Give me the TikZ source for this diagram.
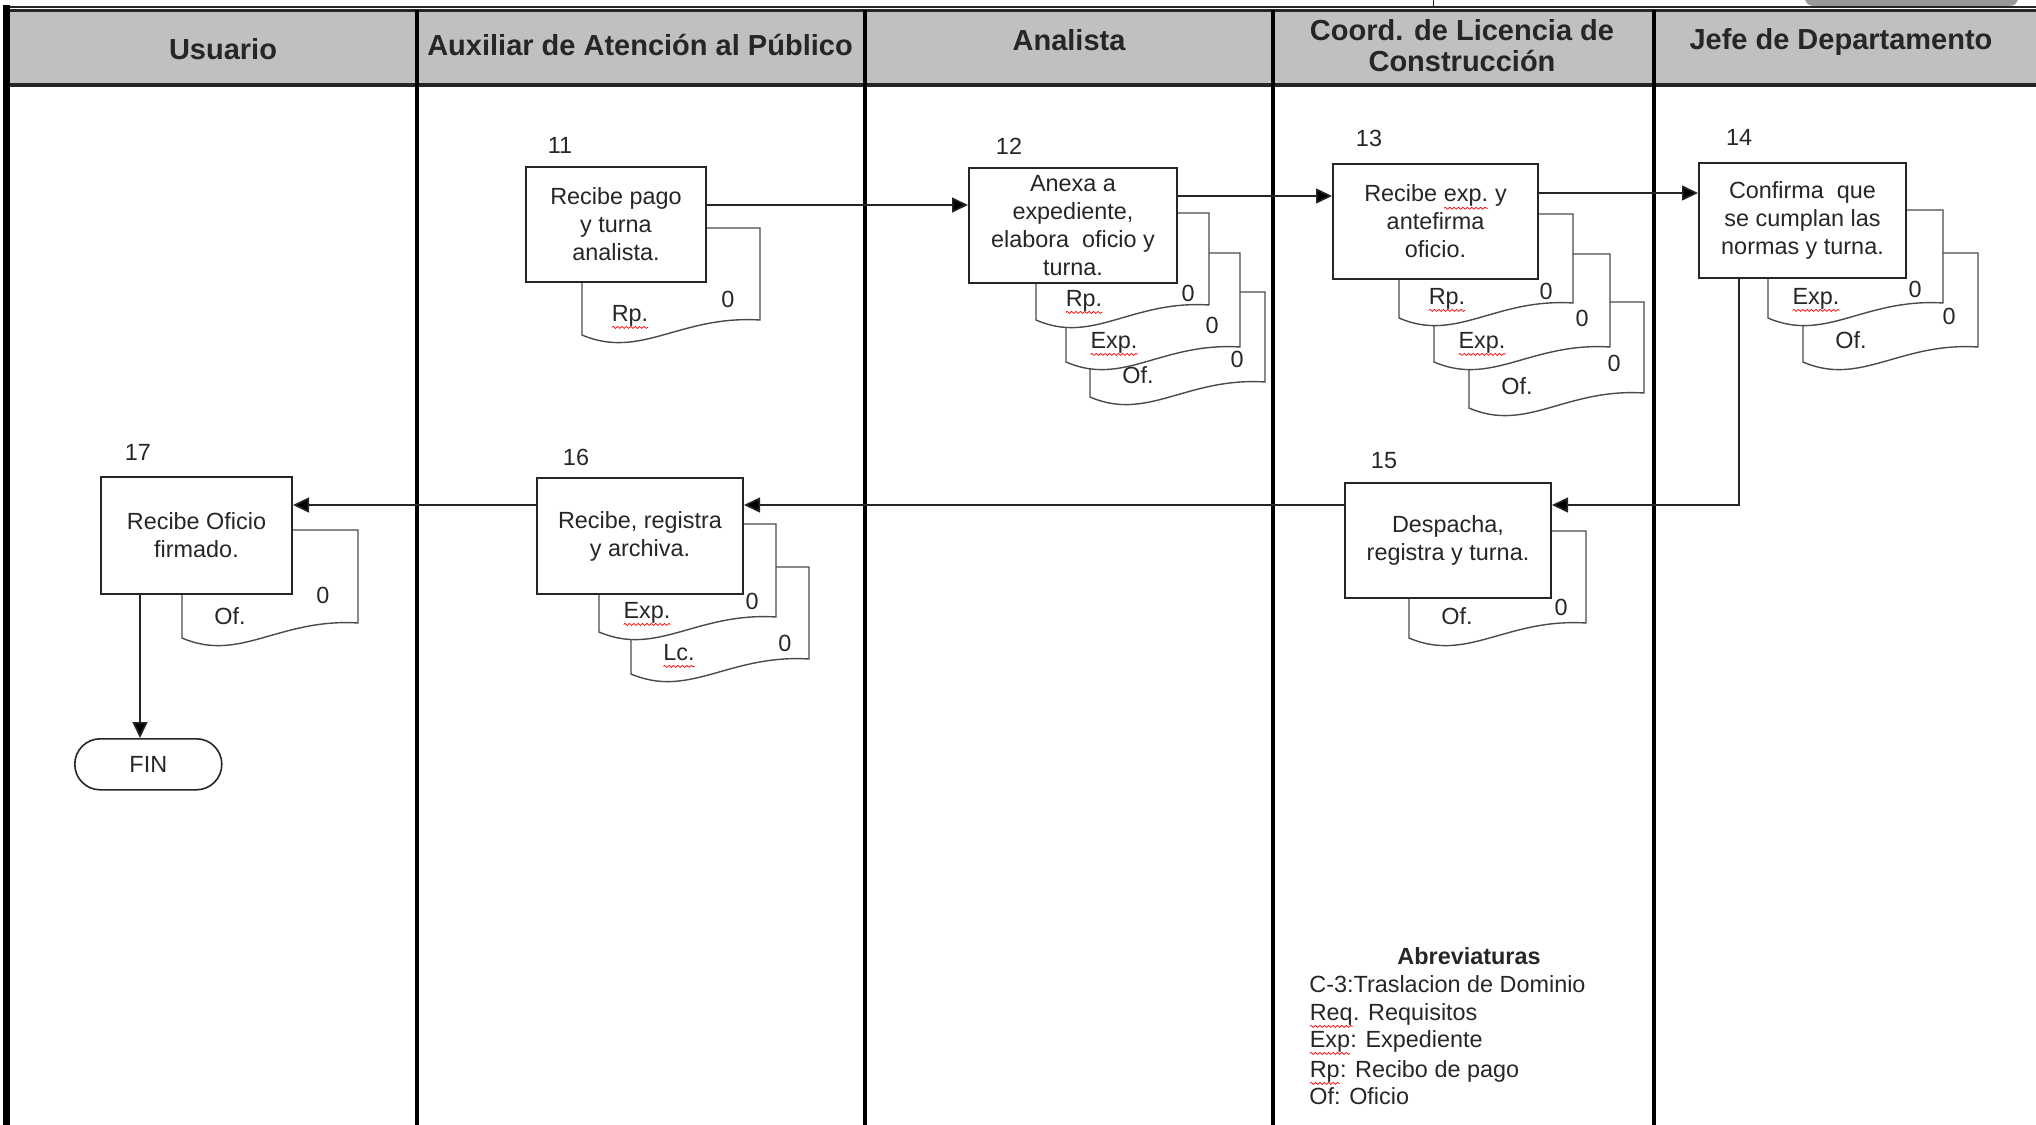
\documentclass[tikz,border=0pt]{standalone}
\usepackage{fontspec}
\setmainfont{Liberation Sans}
\usetikzlibrary{arrows.meta,calc,decorations.pathmorphing}
\definecolor{hdr}{HTML}{C0C0C0}
\definecolor{ink}{HTML}{262626}
\definecolor{docc}{HTML}{4A4A4A}
\newcommand\sqg[1]{\tikz[x=1pt,y=1pt,baseline=(sqw.base)]{\node[inner sep=0pt,outer sep=0pt,anchor=base,draw=none,fill=none,minimum width=0pt,minimum height=0pt](sqw){#1}; \draw[red, line width=0.35pt, decorate, decoration={snake,amplitude=0.5pt,segment length=2.2pt}] ([yshift=-3.2pt]sqw.base west) -- ([yshift=-3.2pt]sqw.base east);}}
\newcommand\bodyfont{\fontsize{11.7}{14}\selectfont}
\newcommand\hdrfont{\bfseries\fontsize{14.5}{15.5}\selectfont}
\tikzset{
  lane/.style={line width=1.6pt, black},
  box/.style={draw=ink, line width=1pt, fill=white, align=center, font=\bodyfont, text=ink, inner sep=2pt, anchor=north west},
  docpath/.style={draw=docc, line width=0.7pt, fill=white},
  arr/.style={draw=ink, line width=0.8pt, -{Triangle[length=8pt,width=7.5pt]}},
  num/.style={font=\bodyfont, text=ink, inner sep=0pt},
  hdrtxt/.style={font=\hdrfont, text=ink, align=center, inner sep=0pt},
  doclbl/.style={font=\bodyfont, text=ink, inner sep=0pt, anchor=base},
  zlbl/.style={font=\bodyfont, text=ink, inner sep=0pt},
  legl/.style={font=\bodyfont, text=ink, inner sep=0pt, anchor=base west},
}
% name, x1, top, x2, yr, label, zero x, zero y
\newcommand\docshp[8]{%
  \pgfmathsetmacro\dw{#4-#2}%
  \draw[docpath] (#2,#3) -- (#4,#3) -- (#4,#5) .. controls ({#4-0.45*\dw},{#5-5}) and ({#2+0.33*\dw},{#5+40}) .. (#2,{#5+15}) -- cycle;
  \node[doclbl] (#1t) at ({#2+48},{#5+1}) {#6};
  \node[zlbl] (#1z) at (#7,#8) {0};
}
\begin{document}
\begin{tikzpicture}[x=0.5pt,y=-0.5pt]
\useasboundingbox (0,0) rectangle (2036,1125);
% top strip
\draw[line width=0.5pt, ink] (1433,0) -- (1433,7);
\fill[gray!80, rounded corners=4pt] (1805,-12) rectangle (2018,6);
\draw[line width=0.8pt, ink] (6,7) -- (2036,7);
% header
\fill[hdr] (6,10) rectangle (2036,85);
\draw[line width=1.3pt, ink] (6,10.5) -- (2036,10.5);
\draw[line width=2pt, ink] (6,85) -- (2036,85);
% lanes
\draw[line width=3.5pt, black] (6.5,5) -- (6.5,1125);
\foreach \lx in {417,865,1273,1654} {\draw[lane] (\lx,10) -- (\lx,1125);}
% header texts
\node[hdrtxt] (h1) at (223,49) {Usuario};
\node[hdrtxt] (h2) at (640,45) {Auxiliar de Atención al Público};
\node[hdrtxt] (h3) at (1069,40) {Analista};
\node[hdrtxt] (h4) at (1462,45.5) {Coord. de Licencia de\\Construcción};
\node[hdrtxt] (h5) at (1841,42) {Jefe de Departamento};

% step 11
\docshp{d11}{582}{228}{760}{320}{\sqg{Rp.}}{728}{299}
\node[box, minimum width=90pt, minimum height=57.5pt] (b11) at (525,166) {Recibe pago\\y turna\\analista.};
\node[num] (n11) at (560,145) {11};
% step 12
\docshp{d12c}{1090}{292}{1265}{382}{Of.}{1237}{359}
\docshp{d12b}{1066}{253}{1240}{347}{\sqg{Exp.}}{1212}{325}
\docshp{d12a}{1036}{213}{1209}{305}{\sqg{Rp.}}{1188}{293}
\node[box, minimum width=104pt, minimum height=57.5pt] (b12) at (968,167) {Anexa a\\expediente,\\elabora~ oficio y\\turna.};
\node[num] (n12) at (1009,146) {12};
% step 13
\docshp{d13c}{1469}{302}{1644}{393}{Of.}{1614}{363}
\docshp{d13b}{1434}{254}{1610}{347}{\sqg{Exp.}}{1582}{318}
\docshp{d13a}{1399}{214}{1573}{303}{\sqg{Rp.}}{1546}{291}
\node[box, minimum width=102.5pt, minimum height=57.5pt] (b13) at (1332,163) {Recibe \sqg{exp.} y\\antefirma\\oficio.};
\node[num] (n13) at (1369,138) {13};
% step 14
\docshp{d14b}{1803}{253}{1978}{347}{Of.}{1949}{316}
\docshp{d14a}{1768}{210}{1943}{303}{\sqg{Exp.}}{1915}{289}
\node[box, minimum width=103.5pt, minimum height=57.5pt] (b14) at (1698,162) {Confirma~ que\\se cumplan las\\normas y turna.};
\node[num] (n14) at (1739,137) {14};
% step 15
\docshp{d15}{1409}{531}{1586}{623}{Of.}{1561}{607}
\node[box, minimum width=103pt, minimum height=57.5pt] (b15) at (1344,482) {Despacha,\\registra y turna.};
\node[num] (n15) at (1384,461) {15};
% step 16
\docshp{d16b}{631}{567}{809}{659}{\sqg{Lc.}}{785}{643}
\docshp{d16a}{599}{524}{776}{617}{\sqg{Exp.}}{752}{601}
\node[box, minimum width=103pt, minimum height=58pt] (b16) at (536,477) {Recibe, registra\\y archiva.};
\node[num] (n16) at (576,457) {16};
% step 17
\docshp{d17}{182}{530}{358}{623}{Of.}{323}{595}
\node[box, minimum width=95.5pt, minimum height=58.5pt] (b17) at (100,476) {Recibe Oficio\\firmado.};
\node[num] (n17) at (138,452) {17};
% FIN
\node[draw=ink, line width=0.8pt, fill=white, rounded corners=12.7pt, minimum width=73.5pt, minimum height=25.5pt, anchor=north west, font=\bodyfont, text=ink, inner sep=0pt] (fin) at (74,738) {FIN};

% connectors
\coordinate (y11) at (0,205);
\coordinate (y12) at (0,196);
\coordinate (y13) at (0,193);
\coordinate (yret) at (0,505);
\coordinate (x14) at (1739,0);
\coordinate (x17) at (140,0);
\draw[arr] (b11.east |- y11) -- (b12.west |- y11);
\draw[arr] (b12.east |- y12) -- (b13.west |- y12);
\draw[arr] (b13.east |- y13) -- (b14.west |- y13);
\draw[arr] (b14.south -| x14) |- (b15.east |- yret);
\draw[arr] (b15.west |- yret) -- (b16.east |- yret);
\draw[arr] (b16.west |- yret) -- (b17.east |- yret);
\draw[arr] (b17.south -| x17) -- (fin.north -| x17);

% legend
\node[font=\bfseries\fontsize{11.7}{14}\selectfont, text=ink, inner sep=0pt] (abt) at (1469,956) {Abreviaturas};
\node[legl] (ab1) at (1309,992) {C-3:Traslacion de Dominio};
\node[legl] (ab2) at (1309,1020) {\sqg{Req}. Requisitos};
\node[legl] (ab3) at (1309,1047) {\sqg{Exp}: Expediente};
\node[legl] (ab4) at (1309,1077) {\sqg{Rp}: Recibo de pago};
\node[legl] (ab5) at (1309,1104) {Of: Oficio};
\end{tikzpicture}
\end{document}
